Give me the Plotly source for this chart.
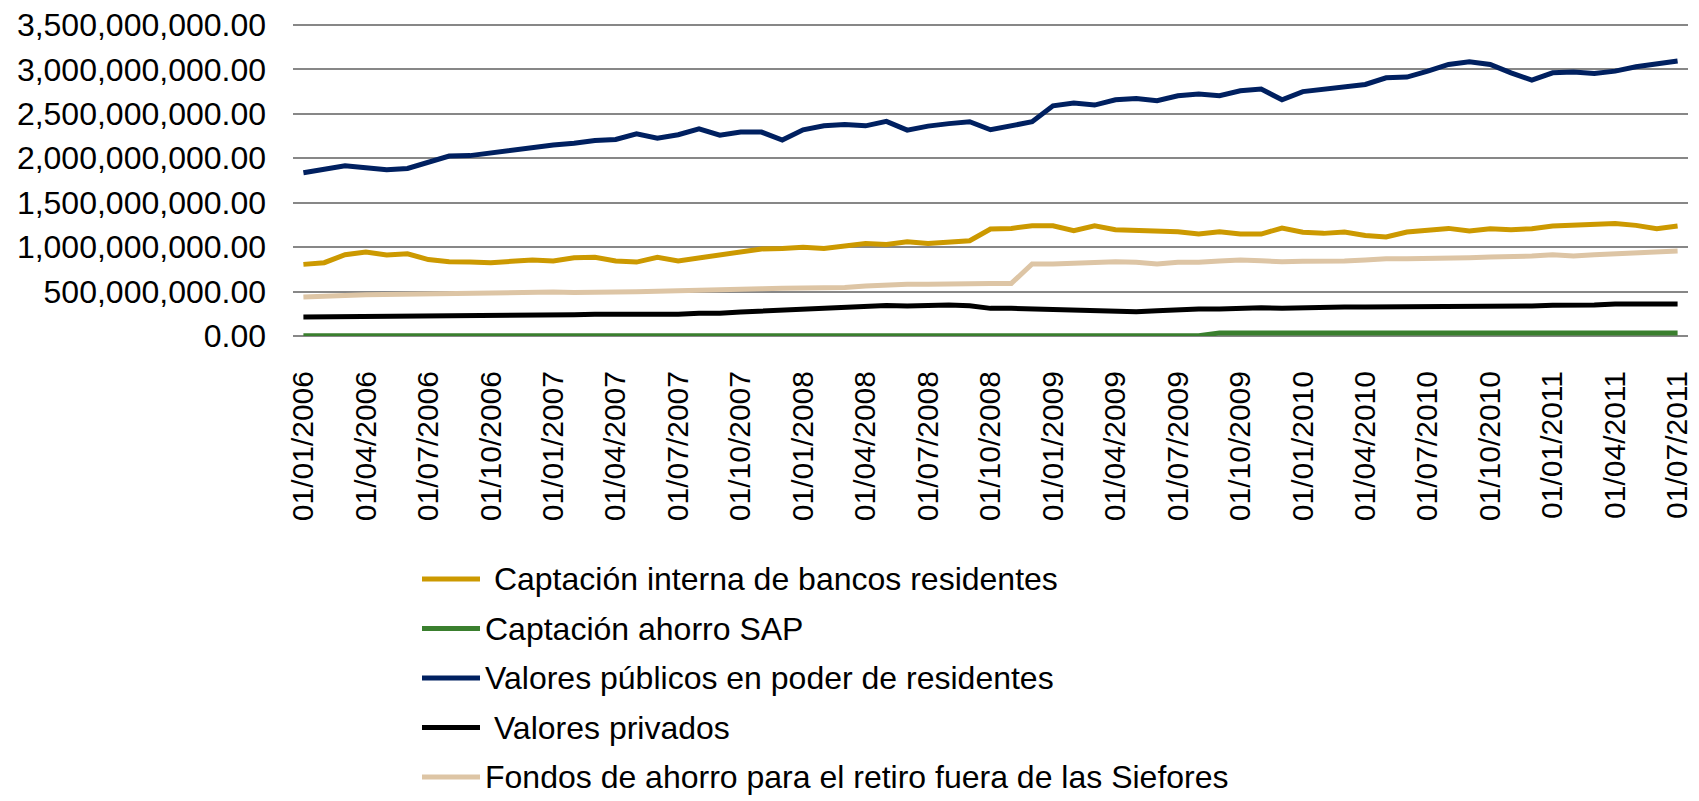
import plotly.graph_objects as go

# Monthly categories 01/01/2006 .. 01/07/2011
months = [f"01/{m:02d}/{y}" for y in range(2006, 2012) for m in range(1, 13)][:67]
tick_labels = months[::3]

# Values in millions
captacion_bancos = [806, 825, 915, 945, 912, 926, 860, 836, 832, 825, 840, 855, 845, 880, 885,
                    845, 832, 885, 845, 880, 915, 945, 980, 985, 1000, 985, 1010, 1040, 1030, 1060,
                    1042, 1054, 1072, 1204, 1211, 1241, 1241, 1185, 1241, 1196, 1192, 1174, 1174, 1147,
                    1174, 1147, 1147, 1215, 1168, 1155, 1170, 1132, 1114, 1170, 1189, 1211, 1181, 1207,
                    1196, 1207, 1237, 1249, 1256, 1267, 1245, 1207, 1237]
captacion_sap = [3] * 44 + [35] * 23
valores_publicos = [1837, 1882, 1915, 1894, 1870, 1885, 1950, 2025, 2030, 2060, 2100, 2130, 2150, 2170,
                    2200, 2212, 2275, 2225, 2265, 2330, 2260, 2295, 2295, 2205, 2320, 2365, 2380, 2365,
                    2415, 2317, 2362, 2390, 2411, 2321, 2359, 2411, 2591, 2621, 2599, 2659, 2674, 2647,
                    2704, 2722, 2704, 2760, 2779, 2659, 2750, 2775, 2805, 2831, 2906, 2914, 2981, 3056,
                    3086, 3056, 2962, 2880, 2962, 2970, 2955, 2981, 3030, 3056, 3094]
valores_privados = [214, 216, 214, 214, 214, 214, 214, 216, 218, 221, 228, 234, 236, 240, 244, 244, 244,
                    236, 244, 255, 255, 270, 281, 298, 304, 307, 319, 335, 343, 338, 346, 349, 341, 311,
                    311, 304, 311, 304, 296, 285, 274, 285, 300, 304, 304, 311, 319, 311, 320, 319, 326,
                    326, 326, 330, 330, 330, 330, 337, 337, 337, 345, 345, 349, 360, 360, 360, 360]
fondos_retiro = [439, 442, 457, 465, 469, 469, 476, 469, 476, 480, 490, 495, 495, 490, 487, 495, 499,
                 506, 517, 521, 525, 525, 532, 536, 536, 540, 547, 562, 574, 581, 581, 580, 585, 592,
                 592, 810, 810, 817, 829, 836, 829, 810, 829, 829, 844, 855, 847, 836, 840, 840, 844,
                 855, 870, 870, 870, 877, 881, 889, 892, 900, 915, 900, 915, 926, 937, 945, 956]

series_names = ["\u00a0Captación interna de bancos residentes",
                "Captación ahorro SAP",
                "Valores públicos en poder de residentes",
                "\u00a0Valores privados",
                "Fondos de ahorro para el retiro fuera de las Siefores"]
series_values = [captacion_bancos, captacion_sap, valores_publicos, valores_privados, fondos_retiro]
series_colors = ["#CC9900", "#3A7F2E", "#002060", "#000000", "#DDC5A5"]

y_ticks = [0, 500e6, 1000e6, 1500e6, 2000e6, 2500e6, 3000e6, 3500e6]
Y_TOP = 3.5e9

FONT = "Arial, Liberation Sans, sans-serif"

# The page body has a default 8px margin, so the figure is offset by 8px.
OFF = 8
EXTRA = 2  # px of headroom above the top gridline so it is drawn
W_FIG, H_FIG = 1699 - OFF, 801 - OFF
M_L, M_T = 293 - OFF, 25 - OFF - EXTRA
PLOT_W, PLOT_H = 1395, 311 + EXTRA
M_R = W_FIG - M_L - PLOT_W
M_B = H_FIG - M_T - PLOT_H
Y_MAX = Y_TOP * PLOT_H / (PLOT_H - EXTRA)


def px_to_paper_x(page_px):
    return (page_px - OFF - M_L) / PLOT_W


def px_to_paper_y(page_py):
    return (M_T + PLOT_H - (page_py - OFF)) / PLOT_H


fig = go.Figure()
for name, vals, col in zip(series_names, series_values, series_colors):
    fig.add_trace(go.Scatter(
        x=months, y=[v * 1e6 for v in vals], mode="lines", name=name.strip(),
        line=dict(color=col, width=5), showlegend=False))

# Legend drawn as line swatches + text (vertical list below the chart)
legend_top_px, legend_step_px = 579, 49.5
line_x0, line_x1, text_x = 422, 480, 483
for k, (name, col) in enumerate(zip(series_names, series_colors)):
    yc = px_to_paper_y(legend_top_px + k * legend_step_px)
    fig.add_shape(type="line", xref="paper", yref="paper",
                  x0=px_to_paper_x(line_x0), x1=px_to_paper_x(line_x1), y0=yc, y1=yc,
                  line=dict(color=col, width=5))
    fig.add_annotation(xref="paper", yref="paper", x=px_to_paper_x(text_x), y=yc,
                       text=name, showarrow=False, xanchor="left", yanchor="middle",
                       font=dict(size=32, family=FONT, color="black"))

fig.update_layout(
    width=W_FIG, height=H_FIG,
    margin=dict(l=M_L, r=M_R, t=M_T, b=M_B),
    paper_bgcolor="white", plot_bgcolor="white",
    font=dict(family=FONT, color="black"),
    showlegend=False,
)
fig.update_xaxes(
    type="category", categoryorder="array", categoryarray=months,
    range=[-0.5, 66.5], tickvals=tick_labels, ticktext=tick_labels,
    tickangle=-90, tickfont=dict(size=30, family=FONT), showgrid=False,
    showline=False, zeroline=False, ticks="", ticklabelstandoff=28, automargin=False,
    ticklabeloverflow="allow")
fig.update_yaxes(
    range=[0, Y_MAX], tickvals=y_ticks, tickformat=",.2f",
    tickfont=dict(size=32, family=FONT), showgrid=True, gridcolor="#878787", gridwidth=2,
    zeroline=True, zerolinecolor="#878787", zerolinewidth=2, showline=False,
    ticks="", ticklabelstandoff=26, automargin=False, ticklabeloverflow="allow")

fig.write_html("out.html")
